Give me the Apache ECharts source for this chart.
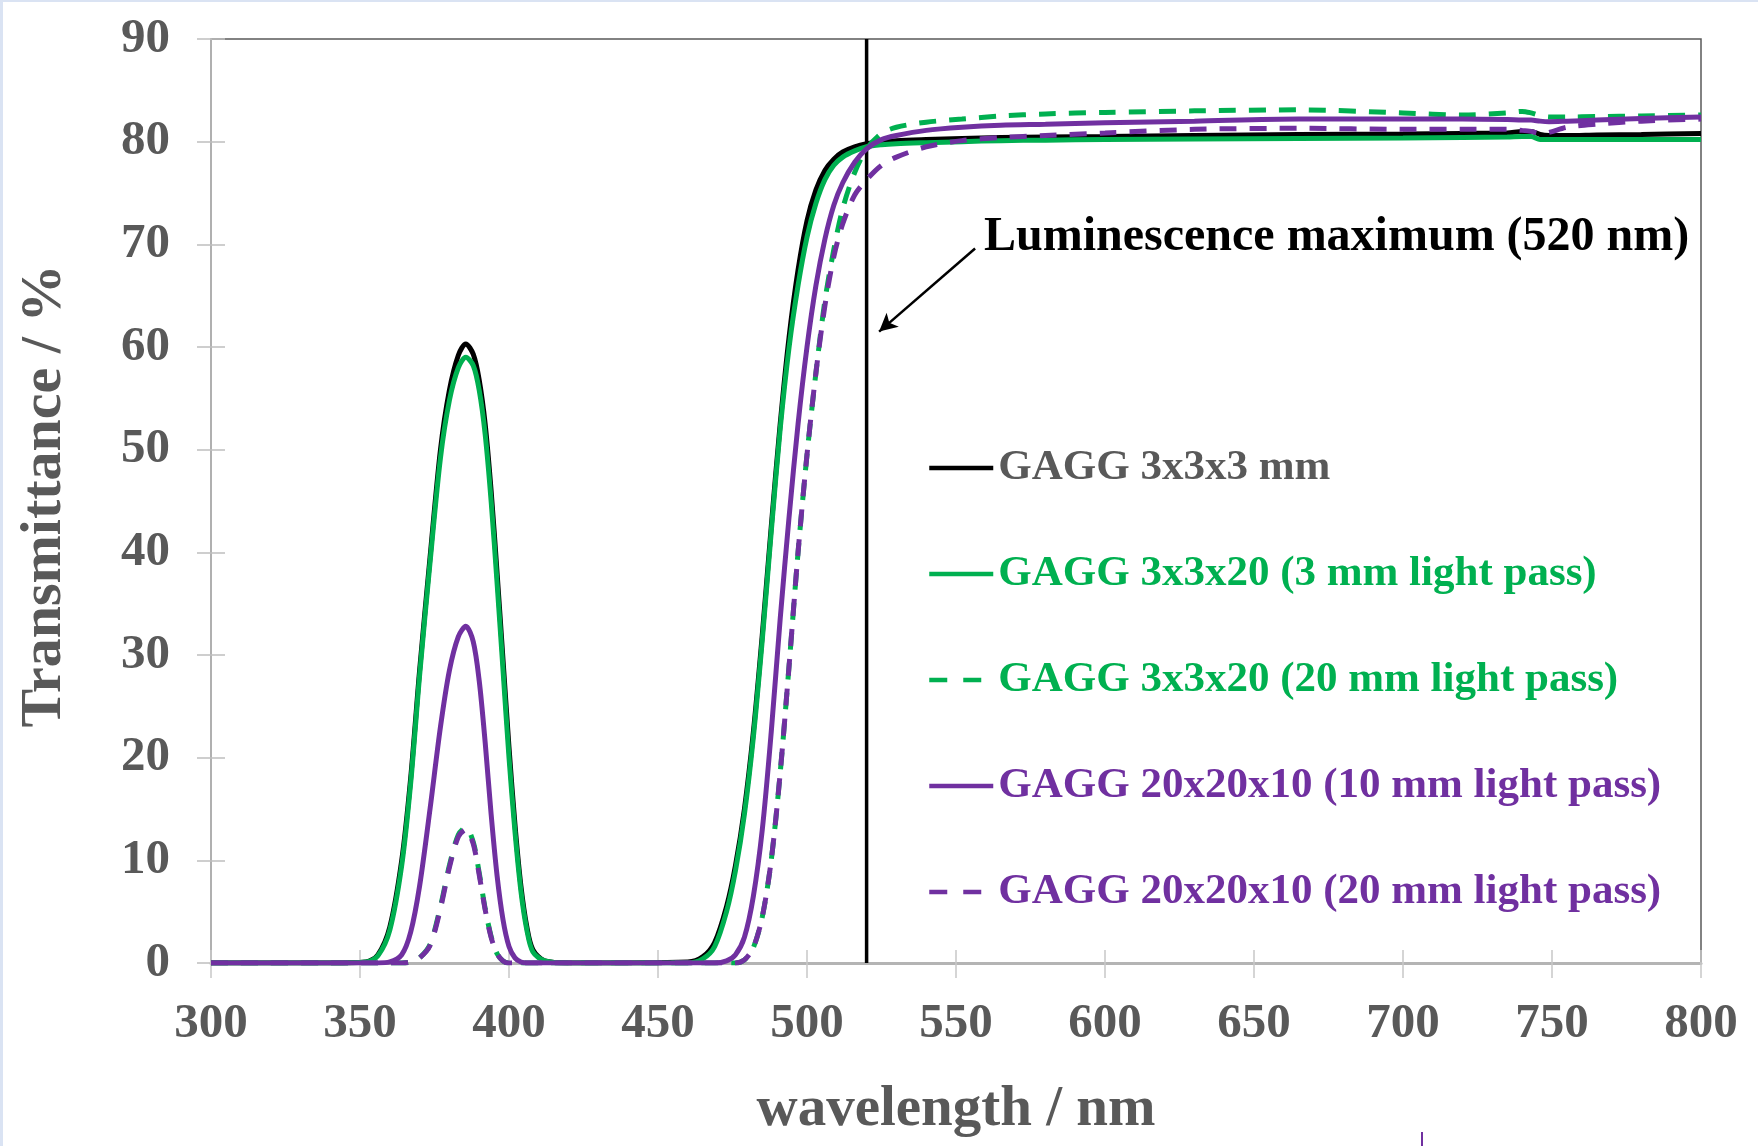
<!DOCTYPE html>
<html>
<head>
<meta charset="utf-8">
<script src="https://cdn.jsdelivr.net/npm/echarts@6/dist/echarts.min.js"></script>
<style>
html, body { margin: 0; padding: 0; background: #fff; }
#chart { width: 1758px; height: 1146px; }
</style>
</head>
<body>
<div id="chart"></div>
<script>
// wavelength grid (nm), shared by all five spectra
const wavelength = [
    300, 340, 352, 356, 360, 364, 367, 370, 373.5, 377, 380, 383, 385.5, 388, 390, 392, 394, 396, 398, 400,
    402, 404, 406, 408, 412, 420, 460, 465, 469, 473, 476, 479, 482, 485, 488, 491, 494, 497, 500, 503,
    506, 509, 512, 516, 520, 525, 530, 540, 552, 565, 580, 600, 630, 665, 700, 720, 735, 740, 743, 746,
    749, 755, 765, 780, 800,
]

// transmittance (%)
const t3x3x3 = [
    0, 0, 0.1, 0.8, 3.5, 10, 18, 28.5, 39.5, 50, 55.8, 59.2, 60.3, 59.3, 56.8, 52.5, 46, 38, 29.5, 21,
    13.5, 7.5, 3.5, 1.3, 0.2, 0, 0.1, 0.6, 2, 5.5, 9.5, 15, 22.5, 32, 42.5, 52.5, 61, 67.5, 72.3, 75.3,
    77.2, 78.3, 79, 79.5, 79.8, 80, 80.1, 80.2, 80.3, 80.4, 80.45, 80.5, 80.6, 80.7, 80.75, 80.8, 80.85, 81.0, 81.0, 80.7,
    80.6, 80.6, 80.65, 80.7, 80.8,
]
const t3x3x20short = [
    0, 0, 0.1, 0.7, 3.2, 9.5, 17.5, 28, 39, 49.2, 54.8, 58, 59.0, 58.2, 55.8, 51.5, 45, 37, 28.5, 20,
    12.8, 7, 3.2, 1.1, 0.2, 0, 0, 0.4, 1.6, 5, 9, 14.5, 22, 31.5, 42, 52, 60, 66, 70.7, 74,
    76.3, 77.7, 78.5, 79.1, 79.5, 79.7, 79.8, 79.9, 80.0, 80.1, 80.15, 80.2, 80.25, 80.3, 80.35, 80.4, 80.45, 80.5, 80.5, 80.2,
    80.2, 80.2, 80.2, 80.2, 80.2,
]
const t3x3x20long = [
    0, 0, 0, 0, 0, 0, 0.1, 0.5, 1.8, 5.5, 9.5, 12.5, 13.2, 11.8, 8.8, 5.3, 2.6, 0.9, 0.2, 0,
    0, 0, 0, 0, 0, 0, 0, 0, 0, 0, 0, 0.3, 1.5, 4.5, 10, 18.5, 29, 40, 49.5, 57.5,
    64.5, 69.5, 73.5, 77, 79.3, 80.8, 81.4, 81.9, 82.2, 82.5, 82.7, 82.85, 83.0, 83.1, 82.8, 82.6, 82.8, 82.95, 82.8, 82.55,
    82.4, 82.4, 82.45, 82.5, 82.6,
]
const t20x20x10short = [
    0, 0, 0, 0, 0.1, 0.8, 3, 7.5, 15, 23, 28.5, 31.8, 32.8, 31.3, 27.5, 21.5, 14.5, 8.5, 4.2, 1.6,
    0.5, 0.1, 0, 0, 0, 0, 0, 0, 0, 0.2, 0.8, 2.5, 6.5, 13, 22.5, 33.5, 43.5, 52.5, 60, 66,
    70.5, 73.8, 76, 78, 79.3, 80.2, 80.6, 81.1, 81.4, 81.6, 81.7, 81.85, 82.0, 82.2, 82.2, 82.2, 82.15, 82.1, 82.1, 82.0,
    81.95, 82.0, 82.1, 82.25, 82.4,
]
const t20x20x10long = [
    0, 0, 0, 0, 0, 0, 0.1, 0.5, 1.7, 5.3, 9.3, 12.3, 13.0, 11.6, 8.6, 5.2, 2.5, 0.9, 0.2, 0,
    0, 0, 0, 0, 0, 0, 0, 0, 0, 0, 0, 0.3, 1.5, 4.5, 10, 18.5, 29, 40, 49.5, 57.5,
    64, 68.8, 72, 74.8, 76.3, 77.7, 78.5, 79.5, 80.1, 80.4, 80.6, 80.85, 81.2, 81.3, 81.2, 81.2, 81.2, 81.1, 81.0, 80.8,
    80.9, 81.4, 81.7, 82.0, 82.2,
]

const seriesNames = [
    "GAGG 3x3x3 mm",
    "GAGG 3x3x20 (3 mm light pass)",
    "GAGG 3x3x20 (20 mm light pass)",
    "GAGG 20x20x10 (10 mm light pass)",
    "GAGG 20x20x10 (20 mm light pass)",
]
const seriesValues = [t3x3x3, t3x3x20short, t3x3x20long, t20x20x10short, t20x20x10long]
const seriesColors = ["#000000", "#00b050", "#00b050", "#7030a0", "#7030a0"]
const legendTextColors = ["#595959", "#00b050", "#00b050", "#7030a0", "#7030a0"]
const seriesDashed = [false, false, true, false, true]

const xTicks = { min: 300, max: 800, interval: 50 }
const yTicks = { min: 0, max: 90, interval: 10 }

// luminescence maximum marker and arrow
const lumMax = 520
const arrowFrom = [556.4, 69.6]
const arrowTo = [524.2, 61.5]

const FONT = "'Liberation Serif', 'Times New Roman', serif"
const GRAY = "#595959"

const chart = echarts.init(document.getElementById("chart"), null, { renderer: "canvas" })

const spectra = seriesNames.map((name, k) => ({
    name,
    type: "line",
    symbol: "none",
    smooth: 0.3,
    z: 3 + k,
    data: wavelength.map((w, i) => [w, seriesValues[k][i]]),
    lineStyle: {
        color: seriesColors[k],
        width: 5,
        type: seriesDashed[k] ? [17, 13] : "solid",
    },
    itemStyle: { color: seriesColors[k] },
}))

const option = {
    animation: false,
    backgroundColor: "#ffffff",
    grid: {
        left: 211,
        right: 57,
        top: 39,
        bottom: 183,
        show: true,
        borderColor: "#5a5a5a",
        borderWidth: 1.5,
        containLabel: false,
    },
    legend: {
        orient: "vertical",
        left: 922,
        top: 438,
        itemWidth: 64,
        itemHeight: 14,
        itemGap: 56,
        itemStyle: { opacity: 0 },
        lineStyle: { width: 4.5 },
        textStyle: {
            fontFamily: FONT,
            fontWeight: "bold",
            fontSize: 43,
            lineHeight: 50,
        },
        data: seriesNames.map((name, i) => ({
            name,
            textStyle: { color: legendTextColors[i] },
            lineStyle: { width: 4.5, type: seriesDashed[i] ? [18, 16] : "solid" },
        })),
    },
    xAxis: [
        {
            type: "value",
            ...xTicks,
            name: "wavelength / nm",
            nameLocation: "middle",
            nameGap: 119,
            nameTextStyle: { fontFamily: FONT, fontWeight: "bold", fontSize: 57, color: GRAY },
            axisLine: { show: true, lineStyle: { color: "#b4b4b4", width: 3 } },
            axisTick: { show: true, inside: false, length: 15, lineStyle: { color: "#c8c8c8", width: 1.5 } },
            axisLabel: { margin: 37, fontFamily: FONT, fontWeight: "bold", fontSize: 49, color: GRAY },
            splitLine: { show: false },
        },
        {
            type: "value",
            ...xTicks,
            position: "bottom",
            axisLine: { show: false },
            axisTick: { show: true, inside: true, length: 13, lineStyle: { color: "#c8c8c8", width: 1.5 } },
            axisLabel: { show: false },
            splitLine: { show: false },
        },
    ],
    yAxis: [
        {
            type: "value",
            ...yTicks,
            name: "Transmittance / %",
            nameLocation: "middle",
            nameGap: 137,
            nameTextStyle: { fontFamily: FONT, fontWeight: "bold", fontSize: 58, color: GRAY, padding: [0, 0, 0, 10] },
            axisLine: { show: true, lineStyle: { color: "#bfbfbf", width: 1.5 } },
            axisTick: { show: true, inside: false, length: 14, lineStyle: { color: "#bfbfbf", width: 1.5 } },
            axisLabel: { margin: 41, fontFamily: FONT, fontWeight: "bold", fontSize: 49, color: GRAY },
            splitLine: { show: false },
        },
        {
            type: "value",
            ...yTicks,
            position: "left",
            axisLine: { show: false },
            axisTick: { show: true, inside: true, length: 14, lineStyle: { color: "#bfbfbf", width: 1.5 } },
            axisLabel: { show: false },
            splitLine: { show: false },
        },
    ],
    series: [
        {
            name: "lumMax",
            type: "line",
            symbol: "none",
            z: 2,
            data: [[lumMax, yTicks.min], [lumMax, yTicks.max]],
            lineStyle: { color: "#000", width: 3.5 },
            markLine: {
                silent: true,
                symbol: ["none", "arrow"],
                symbolSize: [14, 18],
                label: { show: false },
                lineStyle: { color: "#000", width: 2.5, type: "solid" },
                data: [[{ coord: arrowFrom }, { coord: arrowTo }]],
            },
        },
        ...spectra,
    ],
    graphic: [
        {
            type: "text",
            x: 984,
            y: 238,
            style: {
                text: "Luminescence maximum (520 nm)",
                font: `bold 48px ${FONT}`,
                fill: "#000",
                verticalAlign: "middle",
            },
        },
        { type: "rect", shape: { x: 0, y: 0, width: 3, height: 1146 }, style: { fill: "#dae3f3" } },
        { type: "rect", shape: { x: 0, y: 0, width: 1758, height: 2 }, style: { fill: "#dae3f3" } },
        { type: "rect", shape: { x: 1421, y: 1132, width: 2, height: 14 }, style: { fill: "#7030a0" } },
    ],
}

chart.setOption(option)
</script>
</body>
</html>
